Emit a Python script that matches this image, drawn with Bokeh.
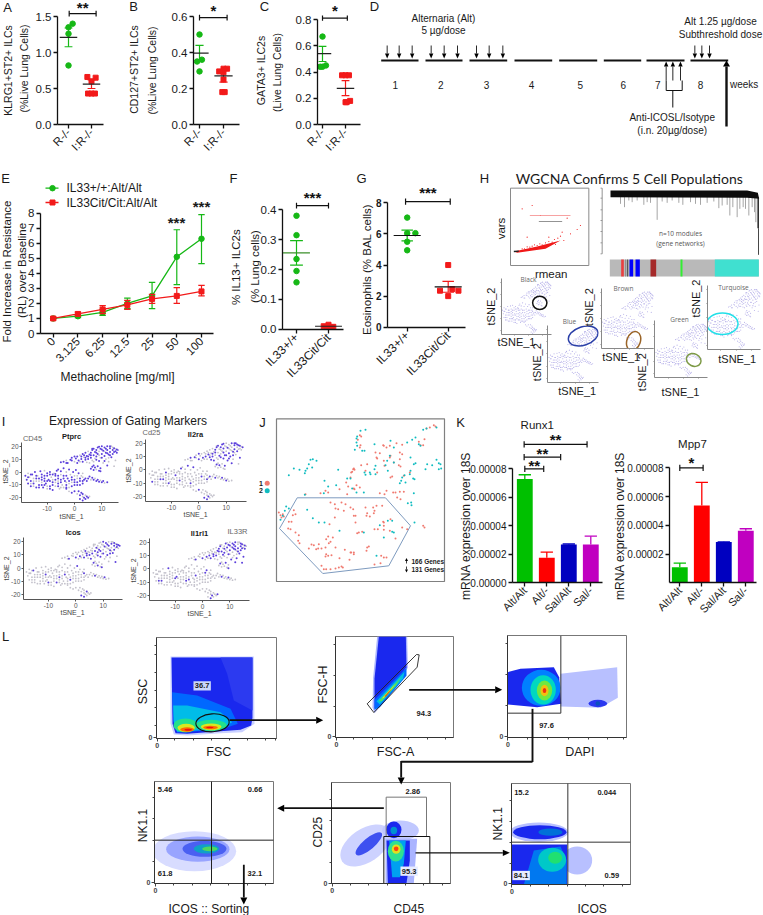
from math import pi
from bokeh.plotting import figure
from bokeh.models import Range1d, FixedTicker, PrintfTickFormatter, Column
from bokeh.core.properties import value
from bokeh.embed import file_html
from bokeh.resources import INLINE

SANS = "Liberation Sans"
GREEN, RED, BLUE, PURPLE = "#16b816", "#f21a1a", "#0000c0", "#c000c0"
PW, PH = 763, 915

# ---- scatter panels A, B, C, F, G ------------------------------------------------
A_GROUPS = ["R-/-", "I:R-/-"]
A_R = [1.40, 1.35, 1.26, 0.82]
A_R_X = [1.18, 1.0, 1.0, 1.0]
A_I = [0.66, 0.65, 0.60, 0.43, 0.43, 0.43]
A_I_X = [0.82, 1.18, 1.0, 0.85, 1.0, 1.15]
A_STATS = [(1.21, 1.08, 1.34), (0.56, 0.50, 0.62)]
B_R = [0.50, 0.36, 0.35, 0.295]
B_R_X = [1.0, 1.1, 0.9, 1.0]
B_I = [0.31, 0.31, 0.295, 0.29, 0.25, 0.18, 0.18]
B_I_X = [1.15, 1.0, 0.82, 1.0, 1.0, 0.95, 1.05]
B_STATS = [(0.397, 0.355, 0.44), (0.27, 0.235, 0.305)]
C_GROUPS = ["R-/-", "I:R-/-"]
C_R = [0.67, 0.45, 0.44, 0.44]
C_R_X = [1.0, 1.15, 1.0, 0.9]
C_I = [0.375, 0.375, 0.375, 0.18, 0.17, 0.17]
C_I_X = [0.85, 1.0, 1.15, 1.2, 1.0, 1.05]
C_STATS = [(0.54, 0.48, 0.595), (0.275, 0.22, 0.335)]
F_GROUPS = ["IL33+/+", "IL33Cit/Cit"]
F_W = [0.38, 0.315, 0.235, 0.195, 0.157]
F_C = [0.015, 0.010, 0.008, 0.007, 0.006]
F_C_X = [1.0, 0.85, 1.15, 0.95, 1.05]
F_STATS = [(0.256, 0.215, 0.297), (0.010, 0.006, 0.014)]
G_W = [7.05, 6.05, 6.05, 5.5, 4.95]
G_W_X = [1.0, 1.0, 1.2, 1.0, 1.0]
G_C = [4.0, 2.45, 2.35, 2.35, 2.0]
G_C_X = [1.0, 1.1, 0.8, 1.25, 1.0]
G_STATS = [(5.9, 5.55, 6.25), (2.6, 2.25, 2.95)]

# ---- panel E ---------------------------------------------------------------------
E_DOSES = ["0", "3.125", "6.25", "12.5", "25", "50", "100"]
E_WT = [1.0, 1.15, 1.4, 2.0, 2.5, 5.1, 6.3]
E_WT_LO = [1.0, 1.05, 1.2, 1.65, 1.65, 3.25, 4.65]
E_WT_HI = [1.0, 1.25, 1.6, 2.35, 3.4, 6.9, 7.9]
E_CIT = [1.0, 1.3, 1.6, 1.9, 2.3, 2.5, 2.8]
E_CIT_LO = [0.9, 1.18, 1.32, 1.6, 2.0, 2.0, 2.5]
E_CIT_HI = [1.1, 1.42, 1.85, 2.2, 2.6, 3.05, 3.2]

# ---- panel K ---------------------------------------------------------------------
K_GROUPS = ["Alt/Alt", "Alt/-", "Sal/Alt", "Sal/-"]
K_COLORS = ["#00c000", "#ff0000", "#0000c0", "#c000c0"]
RUNX1 = [7.28e-5, 1.74e-5, 2.68e-5, 2.68e-5]
RUNX1_HI = [7.58e-5, 2.14e-5, 2.71e-5, 3.26e-5]
MPP7 = [1.09e-5, 5.38e-5, 2.83e-5, 3.62e-5]
MPP7_HI = [1.37e-5, 6.98e-5, 2.85e-5, 3.76e-5]

# ---- tSNE coordinates, panels H and I -----------------------------------------------
T_UPPER = [(-5,7.5),(-4,8),(-3,9),(-2.5,7),(-1.5,9.5),(-1,11),(0,8),(0.5,10.5),(1,12),(1.5,9),(2,13),(2.5,10),(3,14),(3,8),(3.5,11.5),(4,15),(4,9.5),(4.5,12.5),(5,16),(5,10),(5.5,13.5),(5.5,7),(6,15),(6,11),(6.5,17),(6.5,9),(7,13),(7,18),(7.5,15.5),(7.5,10.5),(8,17),(8,12),(8.5,19),(8.5,14),(9,16),(9,8.5),(9.5,18),(9.5,11),(10,20),(10,14),(10.5,16.5),(10.5,7),(11,19),(11,12.5),(11.5,15),(11.5,10),(12,20),(12,17),(12.5,13.5),(12.5,8),(13,18.5),(13,15.5),(13.5,11.5),(13.5,20),(14,17),(14,14),(14.5,18.5),(15,16),(15,9),(15.5,17.5),(16,17),(12,5),(14.5,4.5)]
T_LEFT = [(-18,-3),(-17.5,-6),(-17,-1),(-17,-9),(-16.5,-4),(-16,-7),(-16,-11),(-15.5,-2),(-15,-5),(-15,-9),(-14.5,0),(-14,-7),(-14,-12),(-13.5,-3),(-13,-10),(-13,-5),(-12.5,0.5),(-12,-8),(-12,-2),(-11.5,-12),(-11,-5),(-11,1),(-10.5,-9),(-10,-3),(-10,-13),(-9.5,-6),(-9,0),(-9,-11),(-8.5,-4),(-8,-8),(-8,-14),(-7.5,-1),(-7,-6),(-7,-11),(-6.5,1),(-6,-3),(-6,-9),(-5.5,-13),(-5,-6),(-5,0.5),(-4.5,-10),(-4,-3),(-4,3),(-3.5,-7),(-3,0),(-3,-12),(-2.5,-5),(-2,-9),(-2,2),(-1.5,-2),(-1,-6),(-1,-11),(-0.5,0),(0,-3),(0,-8),(0.5,1.5),(1,-5),(1,-10),(1.5,-1),(2,-7),(2.5,-3),(3,-9),(3,-1),(4,-5),(-9,-7),(-12,-6),(-6,-7),(-14,-5),(-10,-1),(-3,-8),(-7,-3),(-16,-9),(-11,-10),(-8,-2),(-5,-12)]
T_TAIL = [(-3,-13),(-2,-15),(-1,-16),(0,-15),(1,-17),(1.5,-15),(2,-18),(2.5,-16),(3,-19),(3,-17),(3.5,-20),(4,-18),(4,-21),(4.5,-19),(5,-20),(5.5,-19),(2,-21),(3,-22)]
T_STRAND = [(5,-5),(5.5,-3.5),(6,-6),(6.5,-4.5),(7,-6),(7.5,-5),(8,-7),(8.5,-6),(9,-7.5),(9.5,-6.5),(10,-8),(10.5,-7),(11,-8.5),(12,-8),(3.5,-6),(4.5,-7)]
T_ISLAND = [(6,2.5),(6.5,4),(7,1.5),(7.5,3.5),(8,2),(8.5,4.5),(9,1),(9.5,3),(9.5,0.5),(7,5)]
T_UPPER2 = [(1,7),(2.5,12),(4.5,7.5),(3.5,13),(6,13),(6.5,18),(7,8),(8,9.5),(8,15),(9,13),(9,19.5),(10,17.5),(10,11),(11,16),(11,8.5),(11.5,18),(12,14.5),(12.5,11),(13,13),(13,20),(14,19),(14.5,15.5),(15,18),(15.5,15),(5,12),(4,11),(2,8),(0,12),(-1,9),(-3,7)]
T_LEFT2 = [(-17,-4),(-16,-2),(-15,-11),(-14,-3),(-13,-7),(-12,-10),(-11,-3),(-10,-7),(-10,-11),(-9,-2),(-9,-13),(-8,-6),(-8,-10),(-7,-8),(-7,-1.5),(-6,-11),(-6,-5),(-5,-2),(-5,-8),(-4,-5),(-4,-12),(-3,-3),(-3,-10),(-2,-7),(-2,-12),(-1,-4),(-1,-8),(0,-6),(0,-10),(1,-3),(1,-8),(2,-5),(2,-10),(3,-4),(3,-7),(-11,-7),(-13,-12),(-15,-7),(-12,-4),(-6,2)]
T_ALL = T_UPPER + T_LEFT + T_TAIL + T_STRAND + T_ISLAND + T_UPPER2 + T_LEFT2
# expressed (1) or not (0), per point, per marker; read by eye
PTPRC = ("110111011101110111011011101110111101101110111011101110111101110"
         "110101110110101110111011011101101011101101110110101110110111010111011010110"
         "101101110110111011" "1101101110110111" "1111011111"
         "110111011011101110110101110111" "1101011101101011101101110101101110111011")
IL2RA = ("001010100101001010010110100101101011010011010110101101011010110"
         "000100000001000000100000000010000010000000100000100000001000000100000000100"
         "000100000010000011" "0010000100100000" "0101000100"
         "001010010110101001011010100100" "0000100000000100000000100000000000100000")
ICOS = ("000100100100010010010101001010010101001010100101101010110101101"
        "000000010000000000001000000000000100000000000001000000010000000000100000000"
        "000000000001000011" "0000100000010000" "0100100010"
        "000100010100100101001010010000" "0000000010000000000100000000000001000000")
IL1RL1 = ("000100100101010010011010101001011010110101101011010110111011011"
          "000000000100000010000000010000000000100000000010000000000010000000000001000"
          "000000000010000101" "0000100001000000" "0100010010"
          "000010001001010110101101010000" "0000000100000000001000000000010000000000")
# H contours: tSNE centre x, y, width, height, angle (degrees), colour
H_CONTOURS = {"Black": (8, 3, 10, 11, 0, "#111111"),
              "Blue": (5.5, 14.5, 21, 15, 18, "#2a3fa8"),
              "Brown": (2.7, -17.5, 9, 15, -20, "#9a6428"),
              "Green": (7, -9, 10, 10, -25, "#7d9a46"),
              "Turquoise": (-9, -4.5, 20.5, 15.5, 0, "#22e0e8")}

# ---- panel J ---------------------------------------------------------------------
J_RED_L = [(70,300),(75,308),(82,305),(78,315),(85,312),(115,293),(120,305),(112,308),(108,328),(100,328),(98,348),(105,350),(120,360),(130,368),(128,385),(132,392),(160,408),(168,396),(175,398),(182,410),(190,395),(188,408),(198,408),(212,380),(218,372),(232,375),(225,388),(220,392),(240,405),(210,405),(212,425),(218,430),(210,432),(228,428),(252,437),(268,412),(285,420),(295,420),(282,442),(198,460),(205,470),(212,470),(225,470),(240,468),(250,465),(258,462),(262,465),(150,245),(210,235),(218,240),(195,242),(252,230),(272,210),(278,222),(285,195),(290,178),(295,168),(297,230),(275,245),(225,270),(238,275),(248,290),(240,288),(258,270),(265,295),(270,275),(285,285),(238,315),(222,335),(295,310)]
J_CYAN_L = [(165,142),(172,140),(183,145),(160,155),(170,165),(150,175),(148,182),(155,168),(132,172),(115,168),(100,188),(248,172),(207,205),(218,222),(242,218),(205,242),(275,198),(285,198),(298,112),(92,282),(100,288),(88,295),(82,310),(75,322),(155,292),(172,317),(190,330),(207,330),(252,355),(148,247)]
J_RED_R = [(250,38),(255,42),(238,45),(228,48),(205,88),(222,80),(218,98),(210,98),(155,97),(138,92),(118,100),(98,98),(108,105),(100,100),(28,68),(32,72),(22,82),(30,98),(28,105),(75,120),(88,122),(78,135),(80,138),(120,130),(118,135),(148,120),(155,125),(148,140),(100,145),(102,160),(145,158),(150,162),(130,150),(50,155),(32,158),(8,170),(12,172),(2,180),(45,175),(80,180),(160,190),(178,180),(125,192),(120,195),(18,218),(28,225),(10,228),(88,242),(108,235),(128,240),(135,240),(148,238),(160,238),(140,255),(150,260),(102,245),(95,280),(68,285),(78,280),(72,295),(70,302),(45,285),(50,302),(58,312),(8,290),(15,310),(15,330),(48,310),(100,330),(98,328),(72,350),(82,350),(100,352),(118,355),(100,340),(35,358),(25,360),(20,362),(135,378),(155,345),(170,350),(218,340),(222,345),(50,405),(55,402),(48,415),(10,425),(2,420),(92,430),(100,435),(108,435),(90,452),(72,456),(120,320)]
J_CYAN_R = [(30,55),(45,52),(20,72),(18,78),(18,90),(20,100),(35,115),(42,115),(72,95),(120,85),(130,105),(170,90),(185,82),(195,75),(205,95),(210,100),(218,52),(228,48),(258,45),(258,142),(265,152),(270,155),(272,168),(265,170),(225,170),(230,155),(245,158),(195,152),(190,155),(180,135),(180,175),(178,185),(188,198),(192,200),(162,188),(155,195),(152,205),(165,210),(148,212),(110,145),(130,150),(105,158),(112,175),(75,160),(72,170),(75,185),(58,180),(60,185),(42,180),(45,187),(118,130),(40,240),(18,240),(5,228),(190,242),(172,272),(182,270),(183,278),(88,338),(112,325),(125,325),(125,358),(130,360),(100,375),(192,330),(40,360),(78,430)]
J_HULL = [(296.7,497.3),(279,528),(322.3,573),(388.3,565.3),(410,525.3),(385,497.3)]

# ---- panel H, WGCNA ----------------------------------------------------------------
H_VARS = [(300,180),(290,192),(270,205),(245,200),(240,212),(232,218),(222,222),(215,230),(205,228),(195,232),(185,238),(178,235),(170,240),(162,238),(155,242),(148,245),(140,244),(132,250),(125,250),(205,215),(250,225),(225,237),(195,245),(175,248),(125,130),(155,120),(180,150),(260,158),(140,215)]
H_SPIKES = [(420,115),(432,125),(445,105),(455,110),(470,105),(490,118),(500,110),(510,112),(530,163),(545,108),(560,112),(575,105),(595,112),(607,118),(630,110),(645,115),(660,118),(680,112),(700,108),(715,128),(725,120),(740,118),(748,150),(757,125),(770,155),(778,130),(788,125),(795,130),(805,150),(815,125),(822,140),(826,170)]
H_MODULES = [(422,430,"#e84040"),(434,437,"#888888"),(440,443,"#444444"),(447,458,"#0000ff"),(465,478,"#0000ff"),(510,527,"#a52a2a"),(600,606,"#33ee33"),(703,835,"#40e0d0")]

# ---- panel L, gating plots: layers -------------------------------------------------------
LB = "#1a28ee"
L1_LAYERS = [("p","#c9d0ff",[(150,138),(400,138),(402,340),(365,365),(300,368),(200,375),(160,372),(150,340)]),
             ("p",LB,[(153,141),(396,141),(396,322),(392,345),(360,358),(300,362),(200,370),(165,368),(156,340)]),
             ("p","#2c3af0",[(300,141),(396,141),(396,300),(340,270),(320,190)]),
             ("p","#0068ff",[(155,245),(230,255),(330,295),(352,340),(300,358),(170,366),(158,330)]),
             ("p","#00bce8",[(158,285),(200,285),(300,305),(335,335),(300,355),(170,364),(160,335)]),
             ("e","#22e08c",195,345,72,42,0),("e","#22e08c",272,345,94,34,0),
             ("e","#d8e820",197,352,52,24,0),("e","#d8e820",272,349,62,20,0),
             ("e","#ff6a00",200,357,42,13,0),("e","#ff6a00",270,351,44,11,0),
             ("e","#ee1010",203,358,22,6,0),("e","#ee1010",268,351,22,5,0)]
L2_LAYERS = [("p","#aab4ff",[(770,78),(860,78),(862,172),(800,265),(762,308),(756,290),(758,200)]),
             ("p",LB,[(775,78),(856,78),(858,170),(790,262),(762,295),(762,205)]),
             ("p","#0068ff",[(762,268),(858,172),(858,196),(778,290),(762,298)]),
             ("p","#00c0e0",[(768,272),(852,184),(848,204),(778,282)]),
             ("p","#50e060",[(774,272),(842,200),(826,226),(784,272)]),
             ("p","#f0e020",[(784,264),(826,218),(812,238),(790,262)]),
             ("p","#f03010",[(792,258),(814,234),(806,246),(796,258)])]
L3_LAYERS = [("p","#b8c0ff",[(1320,190),(1490,170),(1492,262),(1440,292),(1320,288)]),
             ("e","#2a38f0",1432,279,56,22,0),("e","#0a50c0",1432,279,14,14,0),
             ("p",LB,[(1162,185),(1200,175),(1300,170),(1316,200),(1322,280),(1250,290),(1162,282)]),
             ("e","#0080ff",1262,232,116,108,0),("e","#00d8c0",1268,238,76,88,0),
             ("e","#70e840",1272,240,46,60,0),("e","#f0c010",1272,240,24,34,0),("e","#f03010",1272,240,11,15,0)]
L4_LAYERS = [("e","#d8dcff",222,272,250,120,0),("e","#98a4ff",232,266,190,76,0),("e","#4a60f2",252,265,132,48,0),
             ("e","#10a0c8",258,265,76,28,0),("e","#50d860",268,265,46,14,0)]
L5_LAYERS = [("e","#cdd2ff",735,255,170,100,0.6),("e","#3e50f0",745,250,100,34,0.7),
             ("e","#c0c8ff",840,210,110,60,0),("e",LB,820,208,46,50,0),("e","#0090d0",820,210,20,22,0),
             ("p","#aab4ff",[(795,235),(890,235),(880,368),(795,368)]),
             ("p",LB,[(798,240),(868,240),(868,300),(858,368),(802,368)]),
             ("p","#00a0f0",[(806,240),(856,240),(850,310),(838,350),(815,350)]),
             ("e","#30e090",826,272,48,62,0),("e","#e0e020",827,266,26,28,0),("e","#ff4010",827,265,14,14,0)]
L6_LAYERS = [("e","#b8c0ff",1255,215,176,58,0),("e",LB,1258,215,160,42,0),("e","#0070d8",1290,215,72,22,0),
             ("e","#b8c0ff",1370,300,90,84,0),
             ("p",LB,[(1172,252),(1340,252),(1340,372),(1172,372)]),
             ("p","#0078f0",[(1210,372),(1240,270),(1320,258),(1338,300),(1338,372)]),
             ("e","#00c8c8",1295,298,84,72,0),("e","#20e070",1304,292,42,36,0)]

# ---- helpers -----------------------------------------------------------------------
figs = []
PL = 84
def cal(a_px, a_v, b_px, b_v, px):
    return a_v + (px - a_px) * (b_v - a_v) / (b_px - a_px)

def axes(L, T, R, B, xcal, ycal, pad=(8, 12, 52)):
    pt, pr, pb = pad
    pt, pr, pb = max(pt, 8), max(pr, 12), max(pb, 14)
    L0, T0, R0, B0 = round(L), round(T), round(R), round(B)
    p = figure(width=R0-L0+PL+pr, height=B0-T0+pt+pb,
               output_backend="svg", toolbar_location=None,
               min_border_left=PL, min_border_right=pr, min_border_top=pt, min_border_bottom=pb,
               x_range=Range1d(cal(*xcal, L0), cal(*xcal, R0)),
               y_range=Range1d(cal(*ycal, B0), cal(*ycal, T0)))
    p.background_fill_color = None
    p.border_fill_color = None
    p.outline_line_color = None
    p.grid.visible = False
    p.axis.minor_tick_line_color = None
    p.axis.major_tick_in = 0
    p.styles = {"position": "absolute", "left": f"{L0-PL}px", "top": f"{T0-pt}px"}
    figs.append(p)
    return p

def style(p, xticks, xlabels, yticks, yfmt, tick_size="11.5px", ybound=None, lw=1.3, xfs=None):
    xa, ya = p.xaxis[0], p.yaxis[0]
    xa.ticker = FixedTicker(ticks=xticks)
    xa.major_label_overrides = dict(zip(xticks, xlabels))
    xa.major_label_orientation = pi/4
    ya.ticker = FixedTicker(ticks=yticks)
    ya.formatter = PrintfTickFormatter(format=yfmt)
    if ybound: ya.bounds = ybound
    for a in (xa, ya):
        a.axis_line_width = lw
        a.major_tick_line_width = lw
        a.axis_line_color = "#111111"
        a.major_tick_line_color = "#111111"
        a.major_tick_out = 4
        a.major_label_text_font = SANS
        a.major_label_text_color = "#1a1a1a"
        a.major_label_standoff = 2
    xa.major_label_text_font_size = xfs or tick_size
    ya.major_label_text_font_size = tick_size

def bracket(p, x0, x1, y, cap, stars, ystar, size="15px"):
    p.segment([x0, x0, x1], [y, y-cap, y-cap], [x1, x0, x1], [y, y+cap, y+cap], line_color="#111111", line_width=1.2)
    p.text([(x0+x1)/2], [ystar], text=[stars], text_font=value(SANS), text_font_size=size, text_font_style="bold",
           text_align="center", text_baseline="middle", text_color="#111111")

def group(p, xs, ys, stat, xc, color, marker, hw=0.38, cap=0.17, mean_color="#222222"):
    m, lo, hi = stat
    if marker == "circle":
        p.scatter(xs, ys, marker="circle", size=5.5, color=color)
    else:
        p.scatter(xs, ys, marker="square", size=5, color=color)
    p.segment([xc, xc-cap, xc-cap], [lo, lo, hi], [xc, xc+cap, xc+cap], [hi, lo, hi], line_color=color, line_width=1.2)
    p.segment([xc-hw], [m], [xc+hw], [m], line_color=mean_color, line_width=1.2)

def offs(xs, c):
    return [x - 1 + c for x in xs]

# ---- flow plots first (below arrows) ---------------------------------------------------
def flow(zx0, zy0, zx1, zy1, ox, oy, layers, xticks, yticks, frame="#777777"):
    L, T, R, B = ox+zx0/3, oy+zy0/3, ox+zx1/3, oy+zy1/3
    p = axes(L, T, R, B, (L, zx0, R, zx1), (T, zy0, B, zy1), pad=(8, 12, 14))
    p.outline_line_color = frame
    p.outline_line_width = 1
    for ly in layers:
        if ly[0] == "p":
            xs, ys = zip(*ly[2])
            p.patch(list(xs), list(ys), color=ly[1], line_width=0)
        else:
            p.ellipse([ly[2]], [ly[3]], width=[ly[4]], height=[ly[5]], angle=ly[6], color=ly[1], line_width=0)
    for a, t in ((p.xaxis[0], xticks), (p.yaxis[0], yticks)):
        a.ticker = FixedTicker(ticks=t[:1], minor_ticks=t[1:])
        a.major_label_overrides = {t[0]: "0"}
        a.major_label_text_font = SANS
        a.major_label_text_font_size = "7px"
        a.major_label_text_font_style = "bold"
        a.major_label_standoff = 1
        a.major_tick_out = 3
        a.minor_tick_out = 2
        a.minor_tick_in = 0
        a.minor_tick_line_color = "#444444"
        a.axis_line_color = "#333333"
        a.major_tick_line_color = "#444444"
    return p

Z7 = (120, 610)
Z8 = (120, 760)
f1 = flow(108, 82, 467, 385, *Z7, L1_LAYERS, [110,163,218,272,326,380,434,465], [380,345,292,239,186,133,106])
f1.ellipse([276], [337], width=[100], height=[54], angle=0.06, fill_color=None, line_color="#111111", line_width=1.1)
f2 = flow(645, 78, 1000, 380, *Z7, L2_LAYERS, [648,700,755,810,865,920,975], [378,288,195,103])
f2.patch([740,888,896,890,760], [280,132,133,170,306], fill_color=None, line_color="#222222", line_width=0.9)
f3 = flow(1160, 76, 1518, 380, *Z7, L3_LAYERS, [1162,1220,1280,1345,1405,1460,1510], [378,285,192,100])
f3.segment([1321,1160], [76,308], [1321,1321], [308,308], line_color="#333333", line_width=1)
f4 = flow(103, 62, 460, 368, *Z8, L4_LAYERS, [105,160,215,270,325,380,435], [366,302,239,175,112])
f4.segment([273,103], [62,239], [273,460], [368,239], line_color="#222222", line_width=1)
f5 = flow(633, 65, 990, 370, *Z8, L5_LAYERS, [635,690,745,800,855,910,965], [368,306,243,180,117])
f5.quad(left=[797], right=[918], top=[110], bottom=[228], fill_color=None, line_color="#777777", line_width=1)
f5.quad(left=[790], right=[928], top=[228], bottom=[370], fill_color=None, line_color="#111111", line_width=1)
f6 = flow(1172, 68, 1530, 372, *Z8, L6_LAYERS, [1174,1230,1285,1340,1395,1450,1505], [370,308,245,183,120])
f6.segment([1342,1172], [68,245], [1342,1530], [372,245], line_color="#333333", line_width=1)

# ---- panels A, B, C -----------------------------------------------------------------
pa = axes(57, 1, 103, 124, (68, 1, 91, 2), (124, 0.0, 16, 1.5))
group(pa, A_R_X, A_R, A_STATS[0], 1, GREEN, "circle")
group(pa, offs(A_I_X, 2), A_I, A_STATS[1], 2, RED, "square")
bracket(pa, 1.03, 2.2, 1.54, 0.04, "**", 1.63)
style(pa, [1, 2], A_GROUPS, [0, 0.5, 1.0, 1.5], "%.1f", ybound=(0, 1.5))

pb = axes(193, 1, 239, 124, (199, 1, 223, 2), (124, 0.0, 16, 0.6))
group(pb, B_R_X, B_R, B_STATS[0], 1, GREEN, "circle")
group(pb, offs(B_I_X, 2), B_I, B_STATS[1], 2, RED, "square")
bracket(pb, 1.0, 2.15, 0.594, 0.016, "*", 0.632)
style(pb, [1, 2], A_GROUPS, [0, 0.2, 0.4, 0.6], "%.1f", ybound=(0, 0.6))

pc = axes(317, 1, 360, 124, (322, 1, 345, 2), (124, 0.0, 19, 0.8))
group(pc, C_R_X, C_R, C_STATS[0], 1, GREEN, "circle")
group(pc, offs(C_I_X, 2), C_I, C_STATS[1], 2, RED, "square")
bracket(pc, 1.0, 2.08, 0.81, 0.02, "*", 0.865)
style(pc, [1, 2], C_GROUPS, [0, 0.2, 0.4, 0.6, 0.8], "%.1f", ybound=(0, 0.8))

# ---- panel E -------------------------------------------------------------------------
pe = axes(40, 195, 213, 333, (52.7, 0, 201, 6), (333, 0, 212.7, 8), pad=(8, 12, 50))
ex = list(range(len(E_DOSES)))
pe.segment(ex, E_WT_LO, ex, E_WT_HI, line_color=GREEN, line_width=1.2)
pe.segment([x-0.13 for x in ex], E_WT_LO, [x+0.13 for x in ex], E_WT_LO, line_color=GREEN, line_width=1.2)
pe.segment([x-0.13 for x in ex], E_WT_HI, [x+0.13 for x in ex], E_WT_HI, line_color=GREEN, line_width=1.2)
pe.line(ex, E_WT, line_color=GREEN, line_width=1.3)
pe.scatter(ex, E_WT, marker="circle", size=5.5, color=GREEN)
pe.segment(ex, E_CIT_LO, ex, E_CIT_HI, line_color=RED, line_width=1.2)
pe.segment([x-0.13 for x in ex], E_CIT_LO, [x+0.13 for x in ex], E_CIT_LO, line_color=RED, line_width=1.2)
pe.segment([x-0.13 for x in ex], E_CIT_HI, [x+0.13 for x in ex], E_CIT_HI, line_color=RED, line_width=1.2)
pe.line(ex, E_CIT, line_color=RED, line_width=1.3)
pe.scatter(ex, E_CIT, marker="square", size=5, color=RED)
style(pe, ex, E_DOSES, list(range(0, 9)), "%d", tick_size="11.5px", ybound=(0, 8))

# ---- panels F, G ---------------------------------------------------------------------
pf = axes(282, 190, 343, 333.7, (296, 1, 328, 2), (333.7, 0, 210, 0.4), pad=(8, 12, 54))
group(pf, [1]*len(F_W), F_W, F_STATS[0], 1, GREEN, "circle", hw=0.42, cap=0.2, mean_color="#3b8f2a")
group(pf, offs(F_C_X, 2), F_C, F_STATS[1], 2, RED, "square", hw=0.42, cap=0.1)
bracket(pf, 1.0, 2.0, 0.414, 0.01, "***", 0.442)
style(pf, [1, 2], F_GROUPS, [0, 0.1, 0.2, 0.3, 0.4], "%.1f", tick_size="11.5px", ybound=(0, 0.4), xfs="12px")

pg = axes(387, 184, 465, 331.7, (406.7, 1, 447.7, 2), (331.7, 0, 203, 8), pad=(8, 12, 54))
group(pg, G_W_X, G_W, G_STATS[0], 1, GREEN, "circle", hw=0.33, cap=0.14, mean_color="#111111")
group(pg, offs(G_C_X, 2), G_C, G_STATS[1], 2, RED, "square", hw=0.33, cap=0.14, mean_color="#111111")
bracket(pg, 0.96, 2.05, 8.08, 0.2, "***", 8.66)
style(pg, [1, 2], F_GROUPS, [0, 2, 4, 6, 8], "%d", tick_size="10px", ybound=(0, 8), xfs="12px")
pg.yaxis[0].major_label_text_font_style = "bold"

# ---- panel K -------------------------------------------------------------------------
def kpanel(L, y8, y0, x0, dx, vals, his, xend):
    p = axes(L, 410, xend, y0, (x0, 0, x0+dx, 1), (y0, 0, y8, 8e-5), pad=(8, 12, 44))
    xs = list(range(4))
    p.vbar(xs, width=0.72, top=vals, bottom=0, color=K_COLORS, line_width=0)
    p.segment(xs, vals, xs, his, line_color=K_COLORS, line_width=1.3)
    p.segment([x-0.28 for x in xs], his, [x+0.28 for x in xs], his, line_color=K_COLORS, line_width=1.3)
    style(p, xs, K_GROUPS, [0, 2e-5, 4e-5, 6e-5, 8e-5], "%.5f", tick_size="10px", ybound=(0, 8e-5), xfs="11px")
    return p

k1 = kpanel(511.7, 468.3, 582, 524.3, 22, RUNX1, RUNX1_HI, 602)
bracket(k1, -0.03, 2.83, 9.72e-5, 2.2e-6, "**", 10.05e-5)
bracket(k1, -0.03, 1.63, 8.82e-5, 2.2e-6, "**", 9.05e-5)
bracket(k1, 0.0, 0.86, 8.0e-5, 2.2e-6, "**", 8.25e-5)
k2 = kpanel(668.7, 467.3, 582.3, 679.3, 22, MPP7, MPP7_HI, 756)
bracket(k2, 0, 1.06, 8.0e-5, 2.2e-6, "*", 8.4e-5)

# ---- panel I -------------------------------------------------------------------------
def tsne_panel(L, T, R, B, x0, x10, y20, ym20, flags):
    p = axes(L, T, R, B, (x0, 0, x10, 10), (y20, 20, ym20, -20), pad=(8, 12, 24))
    fl = flags.ljust(len(T_ALL), "0")
    g = [pt for pt, f in zip(T_ALL, fl) if f == "0"]
    c = [pt for pt, f in zip(T_ALL, fl) if f == "1"]
    p.scatter([q[0] for q in g], [q[1] for q in g], size=1.8, color="#c4c2cc", line_width=0)
    p.scatter([q[0] for q in c], [q[1] for q in c], size=2, color="#5c40dc", line_width=0)
    xa, ya = p.xaxis[0], p.yaxis[0]
    xa.ticker = FixedTicker(ticks=[-10, 0, 10])
    ya.ticker = FixedTicker(ticks=[-20, -10, 0, 10, 20])
    xa.major_label_overrides = {-10: "-10", 0: "0", 10: "10"}
    ya.major_label_overrides = {-20: "-20", -10: "-10", 0: "0", 10: "10", 20: "20"}
    for a in (xa, ya):
        a.major_label_text_font = SANS
        a.major_label_text_font_size = "6.5px"
        a.major_label_text_color = "#555555"
        a.major_label_standoff = 1
        a.major_tick_out = 2
        a.axis_line_color = "#555555"
        a.major_tick_line_color = "#555555"
    return p

tsne_panel(20.7, 441.7, 118, 501.7, 74, 101.3, 445.7, 497.3, PTPRC)
tsne_panel(145, 439, 245.7, 501, 198.3, 225.7, 442.7, 496, IL2RA)
tsne_panel(22.7, 537.3, 122.3, 599, 75.3, 102.7, 541.3, 593.7, ICOS)
tsne_panel(149, 538.3, 249.3, 600, 202, 229.3, 541.7, 595, IL1RL1)

# ---- panel H, small tSNE panels ---------------------------------------------------------
def mini(L, T, R, B, name):
    p = axes(L, T, R, B, (L, -19, R, 16), (B, -23, T, 23), pad=(8, 12, 14))
    p.scatter([q[0] for q in T_ALL], [q[1] for q in T_ALL], size=1.1, color="#b4aee8", line_width=0)
    cx, cy, w, h, ang, col = H_CONTOURS[name]
    p.ellipse([cx], [cy], width=[w], height=[h], angle=ang*pi/180, fill_color=None, line_color=col, line_width=1.5)
    for a in (p.xaxis[0], p.yaxis[0]):
        a.ticker = FixedTicker(ticks=[], minor_ticks=[-20, -10, 0, 10, 20])
        a.minor_tick_out = 1
        a.minor_tick_in = 0
        a.minor_tick_line_color = "#888888"
        a.axis_line_color = "#888888"
    return p

mini(500.7, 278, 550.7, 334, "Black")
mini(547, 325, 598, 381.7, "Blue")
mini(600.7, 287.7, 653, 347.7, "Brown")
mini(654, 320, 706.7, 376.7, "Green")
mini(706.7, 285, 760, 349, "Turquoise")

# ---- page overlay: schematics, letters, arrows --------------------------------------------
OV_PAD = 12
ov = figure(width=PW+PL+OV_PAD, height=PH+OV_PAD, output_backend="svg", toolbar_location=None,
            x_axis_location=None, y_axis_location=None,
            x_range=Range1d(0, PW), y_range=Range1d(PH, 0),
            min_border_left=PL, min_border_right=OV_PAD, min_border_top=0, min_border_bottom=OV_PAD)
ov.grid.visible = False
ov.outline_line_color = None
ov.background_fill_color = None
ov.border_fill_color = None
ov.styles = {"position": "absolute", "left": f"{-PL}px", "top": "0px"}
figs.append(ov)

def T(x, y, s, size=10, align="center", color="#1a1a1a", bold=False, angle=0, font=SANS, bg=None):
    if bg:
        w = len(s)*size*0.58
        ov.quad(left=[x-w/2], right=[x+w/2], top=[y-size*0.62], bottom=[y+size*0.62], color=bg, line_width=0)
    ov.text([x], [y], text=[s], text_font=value(font), text_font_size=f"{size}px", text_align=align,
            text_baseline="middle", text_color=color, angle=angle, text_font_style="bold" if bold else "normal")

def seg(x0, y0, x1, y1, w=1, c="#111111"):
    ov.segment([x0], [y0], [x1], [y1], line_color=c, line_width=w)

def arrow(x0, y0, x1, y1, w=1.5, h=4, hl=7):
    dx, dy = x1-x0, y1-y0
    n = (dx*dx+dy*dy)**0.5
    ux, uy = dx/n, dy/n
    bx, by = x1-ux*hl, y1-uy*hl
    seg(x0, y0, bx, by, w)
    ov.patch([x1, bx-uy*h, bx+uy*h], [y1, by+ux*h, by-ux*h], color="#000000", line_width=0)

for s, x, y in [("A",7,7),("B",133,6),("C",264,6),("D",374,6),("E",5,178),("F",233,178),("G",361,178),
                ("H",484,178),("I",3,421),("J",262,422),("K",460,422),("L",5,636)]:
    T(x, y, s, 13)

# y axis titles of the stat panels
for x, y, s, fs in [(7,70,"KLRG1+ST2+ ILCs",10.5),(23.3,68,"(%Live Lung Cells)",10.5),
                    (133,69,"CD127+ST2+ ILCs",10.5),(151.7,70,"(%Live Lung Cells)",10.5),
                    (260,70,"GATA3+ ILC2s",10.5),(276.7,72,"(Live Lung Cells)",10.5),
                    (6.5,271,"Fold Increase in Resistance",11.5),(21.7,270,"(RL) over Baseline",11.5),
                    (235,266.7,"% IL13+ ILC2s",11.5),(254,266,"(% Lung cells)",11.5),
                    (366.7,269,"Eosinophils (% BAL cells)",11.5),
                    (465,525.5,"mRNA expression over 18S",12),(619.3,525.5,"mRNA expression over 18S",12)]:
    T(x, y, s, fs, angle=pi/2)
T(117, 376, "Methacholine [mg/ml]", 12)

# D
D_LINES = [(380.7,418),(425,462),(469,506.7),(514,551.7),(558.7,596.7),(603.3,640.7),(646,684),(690,727.7)]
D_WEEKS = ["1","2","3","4","5","6","7","8"]
D_WEEK_X = [394.7,440.3,486,531,579.7,622.7,657.3,700]
for (a, b) in D_LINES:
    seg(a, 60, b, 60, 2)
for xz in (80,116,155,212,251,291,348,386,427,1003,1024,1047):
    arrow(360+xz/3, 45, 360+xz/3, 58, 0.9, 2.2, 5)
for xz in (917,937,960):
    arrow(360+xz/3, 80, 360+xz/3, 61, 0.9, 2.2, 5)
seg(665.7, 80, 665.7, 90, 1); seg(681.7, 80, 681.7, 90, 1); seg(665.7, 90, 681.7, 90, 1); seg(672.3, 90, 672.3, 107, 1)
arrow(726, 126, 726, 60, 2.4, 3.5, 6)
for s, x in zip(D_WEEKS, D_WEEK_X):
    T(x, 84, s, 10)
T(729.5, 84, "weeks", 10, "left")
T(443, 18, "Alternaria (Alt)", 10)
T(443, 30, "5 µg/dose", 10)
T(720, 21, "Alt 1.25 µg/dose", 10)
T(720, 34, "Subthreshold dose", 10)
T(671.7, 117, "Anti-ICOSL/Isotype", 10)
T(671.7, 129.5, "(i.n. 20µg/dose)", 10)

# E legend and stars
seg(45, 187.7, 58, 187.7, 1.3, GREEN)
ov.scatter([52], [187.7], marker="circle", size=5.5, color=GREEN)
T(66, 187.7, "IL33+/+:Alt/Alt", 12, "left")
seg(45, 202, 58, 202, 1.3, RED)
ov.scatter([52], [202], marker="square", size=5, color=RED)
T(66, 202, "IL33Cit/Cit:Alt/Alt", 12, "left")
T(176, 222, "***", 15, bold=True)
T(201, 206, "***", 15, bold=True)

# H
T(629, 177.5, "WGCNA Confirms 5 Cell Populations", 14, font="Lato")
def zq(a, b, c, d, col):
    ov.quad(left=[480+a/3], right=[480+b/3], top=[165+c/3], bottom=[165+d/3], fill_color=col, line_width=0)
ov.quad(left=[480+90/3], right=[480+325/3], top=[165+68/3], bottom=[165+300/3], fill_color=None, line_color="#8a8a8a", line_width=1)
ov.patch([480+100/3, 480+170/3, 480+240/3, 480+195/3, 480+110/3], [165+258/3, 165+243/3, 165+225/3, 165+250/3, 165+262/3], color="#f01818", line_width=0)
seg(480+100/3, 165+258/3, 480+115/3, 165+257/3, 1.3, "#222222")
ov.scatter([480+x/3 for x, y in H_VARS], [165+y/3 for x, y in H_VARS], marker="circle", size=1.2, color="#f02020", line_width=0)
seg(480+148/3, 165+150/3, 480+270/3, 165+150/3, 0.8, "#f58a8a")
seg(480+175/3, 165+168/3, 480+245/3, 165+168/3, 0.8, "#777777")
T(500, 228, "vars", 11.5, angle=pi/2)
T(550.7, 273.5, "rmean", 11.5)
seg(480+365/3, 165+68/3, 480+365/3, 165+265/3, 0.8, "#777777")
for yz in (68,98,133,165,198,232,265):
    seg(480+360/3, 165+yz/3, 480+365/3, 165+yz/3, 0.7, "#777777")
for xz, yz in H_SPIKES:
    seg(480+xz/3, 165+92/3, 480+xz/3, 165+yz/3, 0.7, "#808080")
ov.patch([480+390/3, 480+800/3, 480+832/3, 480+836/3, 480+800/3, 480+390/3],
         [165+75/3, 165+75/3, 165+82/3, 165+100/3, 165+97/3, 165+95/3], color="#0d0d0d", line_width=0)
seg(480+833/3, 165+95/3, 480+833/3, 165+188/3, 1.4, "#111111")
seg(480+834/3, 165+188/3, 480+834/3, 165+268/3, 0.9, "#333333")
T(680, 233, "n=10 modules", 6.5, color="#555555", font="Open Sans")
T(680, 243, "(gene networks)", 6.5, color="#555555", font="Open Sans")
zq(388, 835, 282, 333, "#b9b9b9")
for a, b, col in H_MODULES:
    zq(a, b, 282, 333, col)
for nm, x, y in [("Black",528,279),("Blue",569,320.7),("Brown",623,287.7),("Green",679,319),("Turquoise",733,287)]:
    T(x, y, nm, 6.5, color="#666666", font="Open Sans")
for x, y in [(490,306),(536.7,361.7),(588,306.7),(641.7,371.7),(695.7,298)]:
    T(x, y, "tSNE_2", 11, angle=pi/2)
for x, y in [(516,341.7),(576.7,390),(620.7,356),(680,391),(736.7,358)]:
    T(x, y, "tSNE_1", 11)

# I titles and axis names
T(127.5, 420.7, "Expression of Gating Markers", 12)
T(71, 436, "Ptprc", 7.5, bold=True); T(32, 438, "CD45", 7.5, color="#666666")
T(195, 434, "Il2ra", 7.5, bold=True); T(151, 432, "Cd25", 7.5, color="#666666")
T(72.7, 532, "Icos", 7.5, bold=True)
T(199, 532.7, "Il1rl1", 7.5, bold=True); T(237, 531, "IL33R", 7.5, color="#666666")
for x, y in [(71,516),(195,514),(72,612),(199,613)]:
    T(x, y, "tSNE_1", 7, color="#444444")
for x, y in [(5,471),(128,470),(6,568),(132.7,570)]:
    T(x, y, "tSNE_2", 7, color="#444444", angle=pi/2)

# J
ov.quad(left=[276], right=[444], top=[418.3], bottom=[581], fill_color=None, line_color="#808080", line_width=1.2)
hx, hy = zip(*J_HULL)
ov.patch(list(hx), list(hy), fill_color=None, line_color="#7e9bbf", line_width=1)
ov.scatter([255+x/3 for x, y in J_RED_L] + [350+x/3 for x, y in J_RED_R],
           [412+y/3 for x, y in J_RED_L] + [412+y/3 for x, y in J_RED_R],
           marker="circle", size=2, color="#f07a70", line_width=0)
ov.scatter([255+x/3 for x, y in J_CYAN_L] + [350+x/3 for x, y in J_CYAN_R],
           [412+y/3 for x, y in J_CYAN_L] + [412+y/3 for x, y in J_CYAN_R],
           marker="circle", size=2, color="#10bcc0", line_width=0)
T(260.5, 482.7, "1", 7, bold=True); T(260.5, 490.3, "2", 7, bold=True)
ov.scatter([266.7, 266.7], [482.7, 490.3], marker="circle", size=5, color=["#f07a70", "#10bcc0"], line_width=0)
T(411, 560.5, "166 Genes", 6.5, "left", bold=True)
T(411, 569, "131 Genes", 6.5, "left", bold=True)
arrow(406, 563, 406, 557.5, 0.8, 1.5, 3)
arrow(406, 566, 406, 572, 0.8, 1.5, 3)

# K titles
T(536.7, 424.5, "Runx1", 11.5)
T(692, 443.5, "Mpp7", 11.5)

# L labels and arrows
def Z7T(x, y, s, **k): T(120+x/3, 610+y/3, s, **k)
def Z8T(x, y, s, **k): T(120+x/3, 760+y/3, s, **k)
Z7T(68, 243, "SSC", size=12.5, angle=pi/2)
Z7T(295, 425, "FSC", size=12.5)
Z7T(607, 222, "FSC-H", size=12.5, angle=pi/2)
Z7T(825, 425, "FSC-A", size=12.5)
Z7T(1378, 425, "DAPI", size=12.5)
Z7T(245, 226, "36.7", size=7.5, bold=True, bg="#c9d6fb")
Z7T(910, 310, "94.3", size=7.5, bold=True)
Z7T(1278, 345, "97.6", size=7.5, bold=True)
Z8T(67, 195, "NK1.1", size=12, angle=pi/2)
Z8T(265, 445, "ICOS :: Sorting", size=12)
Z8T(592, 215, "CD25", size=12, angle=pi/2)
Z8T(865, 445, "CD45", size=12)
Z8T(1132, 190, "NK1.1", size=12, angle=pi/2)
Z8T(1415, 445, "ICOS", size=12)
for x, y, s in [(134,88,"5.46"),(404,88,"0.66"),(134,338,"61.8"),(403,338,"32.1"),(877,92,"2.86"),
                (1203,96,"15.2"),(1459,96,"0.044"),(1474,345,"0.59")]:
    Z8T(x, y, s, size=7.5, bold=True)
Z8T(866, 332, "95.3", size=7.5, bold=True, bg="#e8ecff")
Z8T(1202, 345, "84.1", size=7.5, bold=True, bg="#e8ecff")
arrow(120+327/3, 610+329/3, 120+608/3, 610+329/3, 1.6, 3.5, 7)
arrow(120+866/3, 610+238/3, 120+1145/3, 610+238/3, 1.6, 3.5, 7)
seg(120+1236/3, 610+295/3, 120+1236/3, 761.5, 1.9)
seg(120+1236/3, 761.2, 120+842/3, 761.2, 1.9)
arrow(120+842/3, 760.5, 120+842/3, 784, 1.9, 3.5, 7)
arrow(120+790/3, 760+143/3, 120+470/3, 760+143/3, 1.8, 3.5, 7)
arrow(120+370/3, 760+313/3, 120+370/3, 760+432/3, 1.8, 3.5, 7)
arrow(120+885/3, 760+277/3, 120+1168/3, 760+277/3, 1.3, 3.2, 7)

root = Column(children=figs, width=PW+PL+40, height=PH+40)
open("out.html", "w").write(file_html(root, INLINE))
